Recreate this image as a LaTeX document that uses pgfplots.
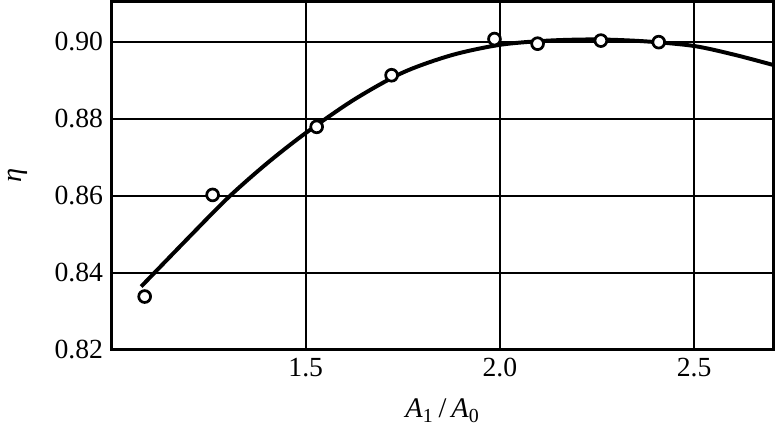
\documentclass[border=0pt]{standalone}
\usepackage{pgfplots}
\pgfplotsset{compat=1.18}
\usepackage{fontspec}
\setmainfont{Liberation Serif}
\begin{document}
\begin{tikzpicture}
\begin{axis}[
    scale only axis,
    width=268pt, height=141pt,
    xmin=1.0, xmax=2.705,
    ymin=0.82, ymax=0.9105,
    xtick={1.5,2.0,2.5},
    ytick={0.82,0.84,0.86,0.88,0.90},
    xticklabels={1.5,2.0,2.5},
    yticklabels={0.82,0.84,0.86,0.88,0.90},
    /pgf/number format/assume math mode=true,
    major tick length=0pt,
    grid=major,
    major grid style={black, line width=0.9pt},
    axis line style={line width=1.1pt},
    tick label style={font=\fontsize{11.2}{13}\selectfont},
    label style={font=\fontsize{11.5}{13}\selectfont},
    xlabel={\textit{A}\textsubscript{1}\,/\,\textit{A}\textsubscript{0}},
    ylabel={\textit{η}},
    xlabel style={yshift=-2pt},
    ylabel style={yshift=4pt},
    clip=true,
]
% fitted curve
\addplot[black, line width=1.6pt, smooth, tension=0.5] coordinates {
    (1.076,0.8364) (1.2,0.8493) (1.3,0.8595) (1.4,0.8684) (1.5,0.8763)
    (1.625,0.8850) (1.75,0.8920) (1.875,0.8965) (2.0,0.8992) (2.125,0.9003)
    (2.25,0.9006) (2.375,0.9001) (2.5,0.8989) (2.605,0.8966) (2.71,0.8938)
};
% measured points
\addplot[only marks, mark=*, mark size=2.4pt,
    mark options={fill=white, draw=black, line width=1.1pt}] coordinates {
    (1.085,0.8338) (1.260,0.8602) (1.528,0.8779) (1.721,0.8913)
    (1.986,0.9007) (2.097,0.8995) (2.260,0.9003) (2.409,0.8999)
};
\end{axis}
\end{tikzpicture}
\end{document}
